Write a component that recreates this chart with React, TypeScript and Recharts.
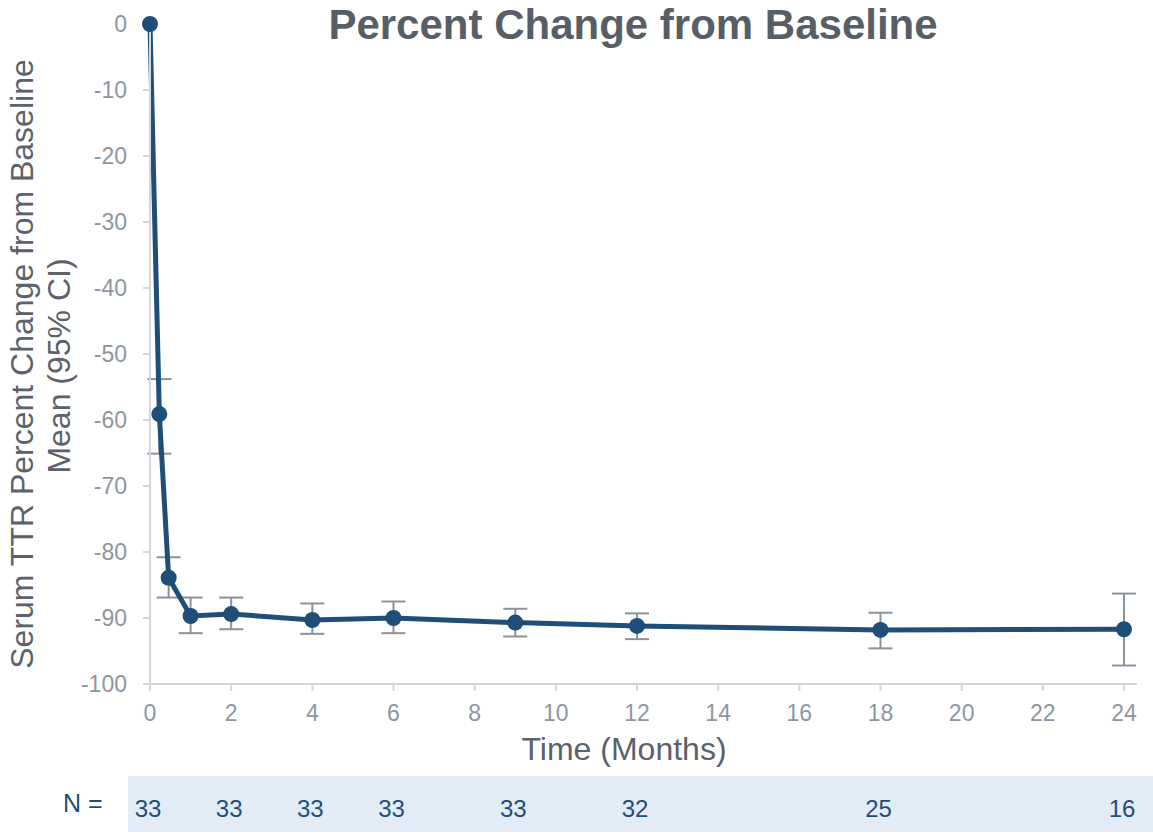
import React from 'react';
import {
  ComposedChart, Line, XAxis, YAxis, ErrorBar, LabelList,
} from 'recharts';

const NAVY = '#1f4e79';
const TICK_GREY = '#8e96a0';
const AXIS_GREY = '#d3d6db';
const LABEL_GREY = '#5b626a';
const FONT = '"Liberation Sans", Arial, Helvetica, sans-serif';

// visit times in months (first two are week 1 and week 2)
const months = [0, 0.23, 0.46, 1, 2, 4, 6, 9, 12, 18, 24];
const meanChange = [0, -59.1, -83.9, -89.7, -89.4, -90.3, -90.0, -90.7, -91.2, -91.8, -91.7];
const ciLower = [null, -65.1, -86.9, -92.3, -91.7, -92.4, -92.3, -92.8, -93.2, -94.6, -97.2];
const ciUpper = [null, -53.8, -80.8, -86.9, -86.9, -87.8, -87.5, -88.6, -89.3, -89.2, -86.3];

// patients at risk, shown under the axis
const nMonths = [0, 2, 4, 6, 9, 12, 18, 24];
const nCounts = [33, 33, 33, 33, 33, 32, 25, 16];

const xTicks = [0, 2, 4, 6, 8, 10, 12, 14, 16, 18, 20, 22, 24];
const yTicks = [0, -10, -20, -30, -40, -50, -60, -70, -80, -90, -100];

const data = months.map((m, i) => {
  const k = nMonths.indexOf(m);
  const lo = ciLower[i];
  const hi = ciUpper[i];
  return {
    month: m,
    mean: meanChange[i],
    ci: lo === null || hi === null ? null : [meanChange[i] - lo, hi - meanChange[i]],
    n: k >= 0 ? nCounts[k] : undefined,
  };
});

const YLabel = () => (
  <g fill={LABEL_GREY} fontSize={32} fontFamily={FONT}>
    <text transform="translate(33, 364) rotate(-90)" textAnchor="middle">
      Serum TTR Percent Change from Baseline
    </text>
    <text transform="translate(70, 366) rotate(-90)" textAnchor="middle">
      Mean (95% CI)
    </text>
  </g>
);

const XLabel = () => (
  <text x={624} y={760} textAnchor="middle" fill={LABEL_GREY} fontSize={32} fontFamily={FONT}>
    Time (Months)
  </text>
);

const NLabel = (props: any) => {
  const { x, value } = props;
  if (value === undefined || value === null) return null;
  return (
    <text x={x - 2} y={817} textAnchor="middle" fill={NAVY} fontSize={24} fontFamily={FONT}>
      {value}
    </text>
  );
};

export default function App() {
  return (
    <div style={{ position: 'absolute', left: 0, top: 0, width: 1153, height: 836, background: '#fff', fontFamily: FONT }}>
      <div style={{ position: 'absolute', left: 128, top: 776, width: 1025, height: 56, background: '#e2ecf6' }} />
      <div style={{ position: 'absolute', left: 63, top: 788, fontSize: 25, color: NAVY, lineHeight: '30px' }}>N =</div>
      <div style={{ position: 'absolute', left: 0, top: 0, width: 1266, textAlign: 'center', fontSize: 42, fontWeight: 'bold', color: '#575e66', lineHeight: '50px' }}>
        Percent Change from Baseline
      </div>
      <div style={{ position: 'absolute', left: 0, top: 0 }}>
        <ComposedChart width={1153} height={836} data={data} margin={{ top: 24, right: 16, bottom: 92, left: 0 }}>
          <XAxis
            type="number"
            dataKey="month"
            domain={[0, 24]}
            ticks={xTicks}
            padding={{ left: 0, right: 13 }}
            height={60}
            tickSize={7}
            tickMargin={14}
            stroke={AXIS_GREY}
            strokeWidth={2}
            tick={{ fill: TICK_GREY, fontSize: 23, fontFamily: FONT }}
            label={{ content: () => <XLabel /> }}
          />
          <YAxis
            type="number"
            domain={[-100, 0]}
            ticks={yTicks}
            width={150}
            tickSize={7}
            tickMargin={16}
            stroke={AXIS_GREY}
            strokeWidth={2}
            tick={{ fill: TICK_GREY, fontSize: 23, fontFamily: FONT }}
            label={{ content: () => <YLabel /> }}
          />
          <Line
            type="linear"
            dataKey="mean"
            stroke={NAVY}
            strokeWidth={5}
            dot={{ r: 8, fill: NAVY, stroke: NAVY, strokeWidth: 0 }}
            activeDot={false}
            isAnimationActive={false}
          >
            <ErrorBar dataKey="ci" direction="y" width={12} stroke="#8a929c" strokeWidth={2} isAnimationActive={false} />
            <LabelList dataKey="n" content={NLabel} />
          </Line>
        </ComposedChart>
      </div>
    </div>
  );
}
